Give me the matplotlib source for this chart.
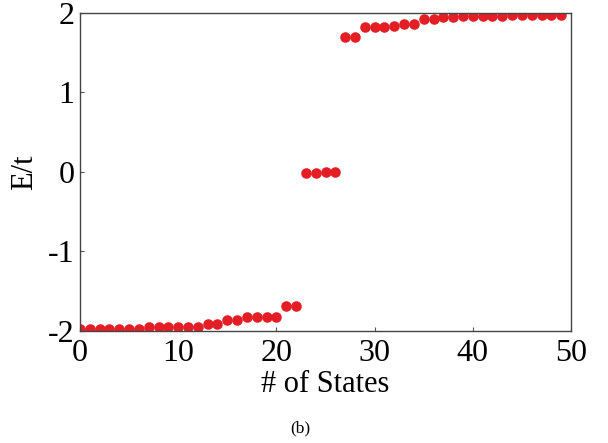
import matplotlib
matplotlib.use("Agg")
import matplotlib.pyplot as plt
import numpy as np

states = list(range(50))
energies = (
    [-1.98, -1.98, -1.98, -1.975, -1.975, -1.975, -1.97,
     -1.955, -1.955, -1.95, -1.95, -1.95, -1.95,
     -1.91, -1.91, -1.86, -1.86, -1.82, -1.82, -1.82, -1.82,
     -1.69, -1.69]
    + [-0.01, -0.01, 0.0, 0.0]
    + [1.70, 1.70, 1.82, 1.82, 1.82, 1.83, 1.86, 1.86, 1.92, 1.92,
       1.95, 1.95, 1.955, 1.955, 1.955, 1.96, 1.96, 1.965, 1.965,
       1.97, 1.97, 1.97, 1.97]
)
xticks = [0, 10, 20, 30, 40, 50]
yticks = [-2, -1, 0, 1, 2]
yticklabels = ["-2", "-1", "0", "1", "2"]

plt.rcParams['font.family'] = ['Liberation Serif', 'DejaVu Serif']

fig = plt.figure(figsize=(6.08, 4.43), dpi=100)
ax = fig.add_axes([0.1316, 0.2528, 0.8076, 0.7185])
ax.plot(states, energies, 'o', color='#E41E25', markersize=7.6, markeredgewidth=0)
ax.set_xlim(0, 50)
ax.set_ylim(-2, 2)
ax.set_xticks(xticks)
ax.set_yticks(yticks)
ax.set_yticklabels(yticklabels)
ax.tick_params(direction='in', length=3, width=0.8, labelsize=23, color='#555555')
ax.tick_params(axis='x', pad=6)
ax.tick_params(axis='y', pad=4)
for s in ax.spines.values():
    s.set_color('#444444')
    s.set_linewidth(1.0)
ax.set_xlabel('# of States', fontsize=22, labelpad=1)
ax.set_ylabel('E/t', fontsize=22, labelpad=6)
fig.text(0.494, 0.034, '(b)', fontsize=12.5, ha='center', va='center')
fig.savefig('out.png', dpi=100)
